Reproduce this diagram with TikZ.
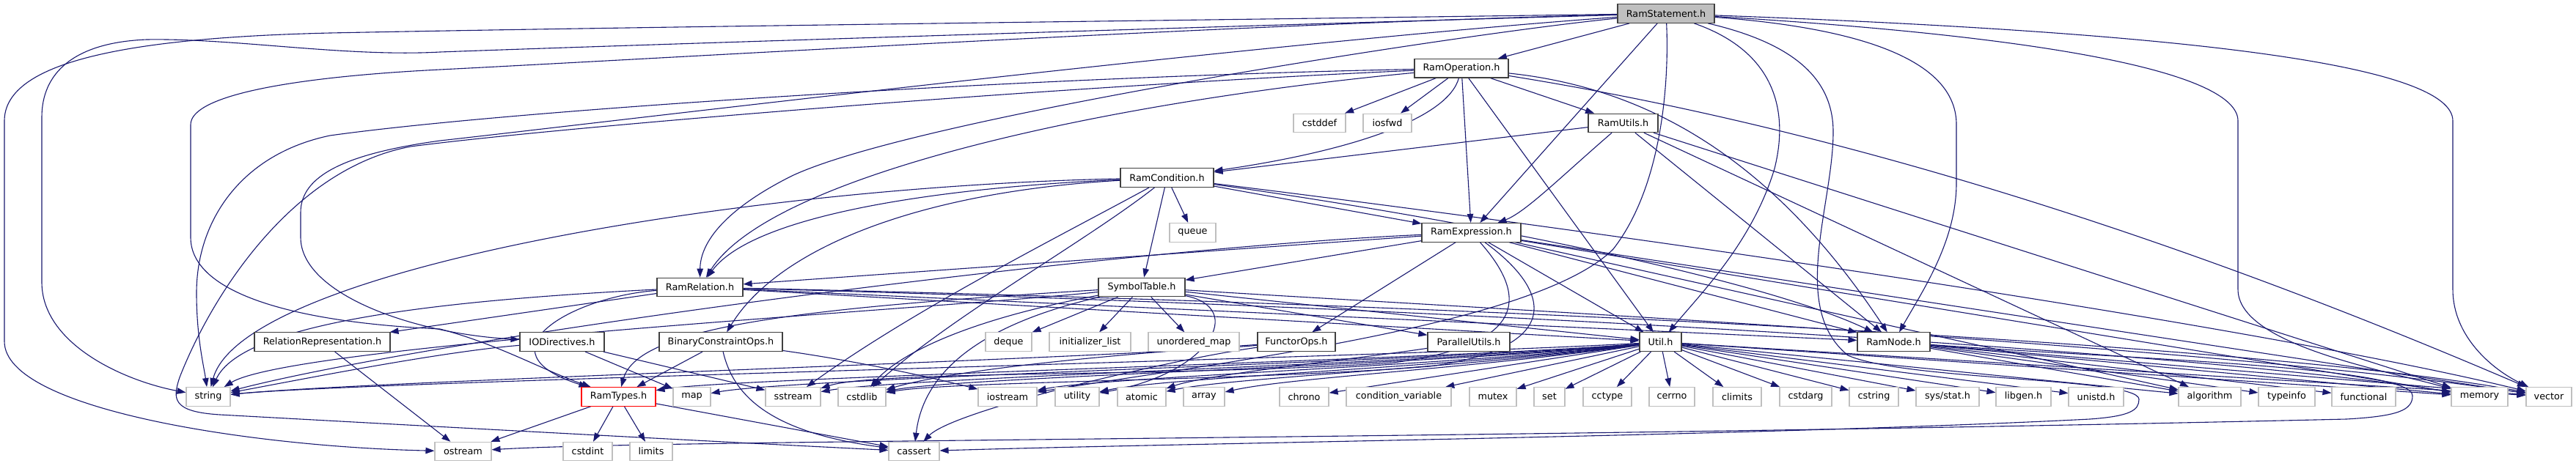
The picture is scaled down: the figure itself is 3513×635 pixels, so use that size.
\documentclass[tikz,border=0pt]{standalone}
\usepackage{fontspec}
\setmainfont{DejaVu Sans}
\usetikzlibrary{arrows.meta}
\definecolor{edgec}{HTML}{191970}
\definecolor{projc}{HTML}{404040}
\definecolor{sysc}{HTML}{BFBFBF}
\definecolor{rootc}{HTML}{BFBFBF}
\newcommand\fs{\fontsize{12.8}{14}\selectfont}
\newcommand\mynode[6]{\node[#1, minimum width={#4-#3}] (#2) at ({(#3+#4)/2},#5) {#6};}
\pgfdeclarelayer{bg}
\pgfsetlayers{bg,main}
\tikzset{
 base/.style={rectangle, minimum height=25.6pt, inner sep=0pt, font=\fs, text=black, line width=1.1pt},
 proj/.style={base, draw=projc, fill=white},
 sys/.style={base, draw=sysc, fill=white},
 root/.style={base, draw=projc, fill=rootc},
 trunc/.style={base, draw=red, fill=white},
 ar/.style={draw=edgec, line width=1.1pt, -{Triangle[length=12pt,width=8.5pt]}},
}
\begin{document}
\begin{tikzpicture}[x=1pt,y=-1pt]
\useasboundingbox (0,0) rectangle (3513,635);
\begin{pgfonlayer}{bg}\fill[white] (0,0) rectangle (3513,635);\end{pgfonlayer}
% level 0-5
\mynode{root}{S}{2206}{2338}{18.5}{RamStatement.h}
\mynode{proj}{O}{1929}{2057}{93.2}{RamOperation.h}
\mynode{sys}{cstddef}{1764}{1835}{167.9}{cstddef}
\mynode{sys}{iosfwd}{1859}{1925}{167.9}{iosfwd}
\mynode{proj}{U}{2166}{2261}{167.9}{RamUtils.h}
\mynode{proj}{C}{1528}{1655}{242.6}{RamCondition.h}
\mynode{sys}{queue}{1595}{1658}{317.3}{queue}
\mynode{proj}{E}{1939}{2074}{317.3}{RamExpression.h}
\mynode{proj}{Rel}{896}{1013}{392}{RamRelation.h}
\mynode{proj}{ST}{1498}{1616}{392}{SymbolTable.h}
% level 6
\mynode{proj}{RR}{347}{532}{466.7}{RelationRepresentation.h}
\mynode{proj}{IOD}{709}{824}{466.7}{IODirectives.h}
\mynode{proj}{BCO}{899}{1067}{466.7}{BinaryConstraintOps.h}
\mynode{sys}{deque}{1344}{1407}{466.7}{deque}
\mynode{sys}{initl}{1431}{1542}{466.7}{initializer\_list}
\mynode{sys}{umap}{1566}{1690}{466.7}{unordered\_map}
\mynode{proj}{FO}{1715}{1821}{466.7}{FunctorOps.h}
\mynode{proj}{PU}{1947}{2059}{466.7}{ParallelUtils.h}
\mynode{proj}{Ut}{2236}{2293}{466.7}{Util.h}
\mynode{proj}{RN}{2533}{2632}{466.7}{RamNode.h}
% level 7
\mynode{sys}{str}{254}{314}{541.4}{string}
\mynode{trunc}{RT}{793}{894}{541.4}{RamTypes.h}
\mynode{sys}{map}{918}{969}{541.4}{map}
\mynode{sys}{sstream}{1044}{1119}{541.4}{sstream}
\mynode{sys}{cstdlib}{1143}{1208}{541.4}{cstdlib}
\mynode{sys}{iostream}{1334}{1414}{541.4}{iostream}
\mynode{sys}{utility}{1439}{1499}{541.4}{utility}
\mynode{sys}{atomic}{1524}{1590}{541.4}{atomic}
\mynode{sys}{array}{1614}{1670}{541.4}{array}
\mynode{sys}{chrono}{1745}{1812}{541.4}{chrono}
\mynode{sys}{condvar}{1836}{1979}{541.4}{condition\_variable}
\mynode{sys}{mutex}{2004}{2068}{541.4}{mutex}
\mynode{sys}{set}{2092}{2134}{541.4}{set}
\mynode{sys}{cctype}{2159}{2225}{541.4}{cctype}
\mynode{sys}{cerrno}{2249}{2311}{541.4}{cerrno}
\mynode{sys}{climits}{2336}{2402}{541.4}{climits}
\mynode{sys}{cstdarg}{2427}{2498}{541.4}{cstdarg}
\mynode{sys}{cstring}{2522}{2589}{541.4}{cstring}
\mynode{sys}{sysstat}{2613}{2699}{541.4}{sys/stat.h}
\mynode{sys}{libgen}{2722}{2797}{541.4}{libgen.h}
\mynode{sys}{unistd}{2821}{2896}{541.4}{unistd.h}
\mynode{sys}{algorithm}{2971}{3056}{541.4}{algorithm}
\mynode{sys}{typeinfo}{3080}{3157}{541.4}{typeinfo}
\mynode{sys}{functional}{3180}{3267}{541.4}{functional}
\mynode{sys}{memory}{3343}{3420}{541.4}{memory}
\mynode{sys}{vector}{3445}{3507}{541.4}{vector}
% level 8
\mynode{sys}{ostream}{593}{670}{616.1}{ostream}
\mynode{sys}{cstdint}{768}{835}{616.1}{cstdint}
\mynode{sys}{limits}{859}{917}{616.1}{limits}
\mynode{sys}{cassert}{1212}{1281}{616.1}{cassert}

\begin{pgfonlayer}{bg}
% RamStatement.h
\draw[ar] (S) -- (O);
\draw[ar] (S) -- (E);
\draw[ar] (S) .. controls (2000,45) and (1250,160) .. (1080,240) .. controls (990,285) and (955,330) .. (Rel);
\draw[ar] (S) .. controls (1600,28) and (900,36) .. (450,45) .. controls (150,52) and (6,90) .. (6,165) -- (6,466) .. controls (6,560) and (350,610) .. (ostream);
\draw[ar] (S) .. controls (1700,35) and (900,60) .. (600,71) .. controls (470,78) and (320,52) .. (200,54) .. controls (100,58) and (57,100) .. (57,160) -- (57,385) .. controls (57,470) and (170,520) .. (str);
\draw[ar] (S) .. controls (1700,32) and (900,80) .. (600,95) .. controls (400,105) and (260,130) .. (260,170) -- (260,324) .. controls (260,400) and (400,440) .. (600,449) .. controls (680,470) and (740,505) .. (RT);
\draw[ar] (S) .. controls (1700,60) and (800,170) .. (600,192) .. controls (470,210) and (410,240) .. (410,290) -- (410,324) .. controls (410,400) and (560,455) .. (IOD);
\draw[ar] (S) .. controls (2560,40) and (2668,90) .. (2668,170) -- (2668,250) .. controls (2668,330) and (2620,400) .. (RN);
\draw[ar] (S) .. controls (2420,70) and (2440,150) .. (2420,230) .. controls (2390,330) and (2320,400) .. (Ut);
\draw[ar] (S) .. controls (2800,50) and (3052,100) .. (3052,165) -- (3052,395) .. controls (3052,470) and (3250,505) .. (memory);
\draw[ar] (S) .. controls (3000,45) and (3345,90) .. (3345,165) -- (3345,395) .. controls (3345,460) and (3400,505) .. (vector);
\draw[ar] (S) .. controls (2450,60) and (2500,110) .. (2500,180) .. controls (2500,280) and (2440,420) .. (2520,485) .. controls (2600,520) and (2917,515) .. (2917,545) .. controls (2917,560) and (2905,568) .. (2850,572) .. controls (2400,595) and (1600,605) .. (cassert);
\draw[ar] (S) .. controls (2276,100) and (2270,250) .. (2200,340) .. controls (2100,440) and (1700,490) .. (iostream);
% RamOperation.h
\draw[ar] (O) -- (cstddef);
\draw[ar] (O) -- (iosfwd);
\draw[ar] (O) -- (U);
\draw[ar] (O) -- (E);
\draw[ar] (O) -- (Ut);
\draw[ar] (O) .. controls (1975,160) and (1850,205) .. (C);
\draw[ar] (O) .. controls (1500,140) and (1050,240) .. (Rel);
\draw[ar] (O) .. controls (2250,120) and (2420,220) .. (RN);
\draw[ar] (O) .. controls (2600,190) and (3100,380) .. (vector);
\draw[ar] (O) .. controls (1400,105) and (700,150) .. (450,185) .. controls (330,210) and (268,300) .. (268,400) .. controls (268,460) and (278,500) .. (str);
\draw[ar] (O) .. controls (1400,120) and (750,175) .. (560,200) .. controls (400,230) and (290,400) .. (245,515) .. controls (235,545) and (235,562) .. (300,566) .. controls (700,588) and (1000,604) .. (cassert);
% RamUtils.h
\draw[ar] (U) -- (C);
\draw[ar] (U) .. controls (2130,240) and (2080,290) .. (E);
\draw[ar] (U) -- (RN);
\draw[ar] (U) -- (algorithm);
\draw[ar] (U) -- (memory);
% RamCondition.h
\draw[ar] (C) -- (queue);
\draw[ar] (C) -- (ST);
\draw[ar] (C) -- (E);
\draw[ar] (C) .. controls (1300,255) and (1030,290) .. (Rel);
\draw[ar] (C) .. controls (1250,262) and (1060,340) .. (BCO);
\draw[ar] (C) .. controls (1000,255) and (330,370) .. (str);
\draw[ar] (C) .. controls (1450,320) and (1250,420) .. (sstream);
\draw[ar] (C) .. controls (1480,330) and (1300,430) .. (cstdlib);
\draw[ar] (C) .. controls (2000,300) and (2400,380) .. (RN);
\draw[ar] (C) .. controls (2300,330) and (3100,450) .. (vector);
% RamExpression.h
\draw[ar] (E) -- (FO);
\draw[ar] (E) -- (ST);
\draw[ar] (E) -- (Rel);
\draw[ar] (E) -- (Ut);
\draw[ar] (E) -- (RN);
\draw[ar] (E) .. controls (1500,340) and (600,460) .. (str);
\draw[ar] (E) .. controls (2080,400) and (2090,470) .. (1900,495) .. controls (1600,515) and (1200,505) .. (sstream);
\draw[ar] (E) .. controls (2120,400) and (2130,475) .. (1950,500) .. controls (1700,520) and (1300,520) .. (cstdlib);
\draw[ar] (E) -- (algorithm);
\draw[ar] (E) -- (memory);
\draw[ar] (E) -- (vector);
% RamRelation.h
\draw[ar] (Rel) -- (RR);
\draw[ar] (Rel) .. controls (780,405) and (650,480) .. (RT);
\draw[ar] (Rel) .. controls (600,410) and (330,440) .. (str);
\draw[ar] (Rel) -- (Ut);
\draw[ar] (Rel) -- (RN);
\draw[ar] (Rel) .. controls (2000,420) and (3000,480) .. (memory);
\draw[ar] (Rel) .. controls (2000,415) and (3100,470) .. (vector);
% SymbolTable.h
\draw[ar] (ST) -- (deque);
\draw[ar] (ST) -- (initl);
\draw[ar] (ST) -- (umap);
\draw[ar] (ST) -- (PU);
\draw[ar] (ST) -- (Ut);
\draw[ar] (ST) .. controls (1100,420) and (870,445) .. (RT);
\draw[ar] (ST) .. controls (1350,440) and (1260,500) .. (cassert);
\draw[ar] (ST) .. controls (1300,420) and (400,470) .. (str);
\draw[ar] (ST) .. controls (1300,440) and (1220,490) .. (cstdlib);
\draw[ar] (ST) .. controls (1700,420) and (1650,510) .. (utility);
\draw[ar] (ST) .. controls (2000,420) and (3000,470) .. (vector);
% IODirectives.h
\draw[ar] (IOD) -- (map);
\draw[ar] (IOD) -- (sstream);
\draw[ar] (IOD) .. controls (600,480) and (400,520) .. (str);
% BinaryConstraintOps.h
\draw[ar] (BCO) -- (RT);
\draw[ar] (BCO) .. controls (1000,540) and (1050,590) .. (cassert);
\draw[ar] (BCO) .. controls (1150,490) and (1250,510) .. (iostream);
% RelationRepresentation.h
\draw[ar] (RR) -- (ostream);
% RamTypes.h
\draw[ar] (RT) -- (ostream);
\draw[ar] (RT) -- (cstdint);
\draw[ar] (RT) -- (limits);
\draw[ar] (RT) -- (cassert);
% FunctorOps.h
\draw[ar] (FO) .. controls (1500,490) and (500,520) .. (str);
\draw[ar] (FO) .. controls (1500,485) and (1300,505) .. (cstdlib);
\draw[ar] (FO) .. controls (1600,490) and (1300,560) .. (cassert);
% ParallelUtils.h
\draw[ar] (PU) .. controls (1850,490) and (1650,510) .. (atomic);
% Util.h
\draw[ar] (Ut) .. controls (2000,490) and (1000,515) .. (RT);
\draw[ar] (Ut) .. controls (2000,492) and (1090,515) .. (map);
\draw[ar] (Ut) .. controls (2000,494) and (1230,515) .. (sstream);
\draw[ar] (Ut) .. controls (2000,496) and (1300,515) .. (cstdlib);
\draw[ar] (Ut) .. controls (2000,498) and (1500,515) .. (iostream);
\draw[ar] (Ut) .. controls (2000,500) and (1590,515) .. (utility);
\draw[ar] (Ut) .. controls (2000,502) and (1680,515) .. (atomic);
\draw[ar] (Ut) .. controls (2000,504) and (1760,515) .. (array);
\draw[ar] (Ut) .. controls (1900,488) and (500,520) .. (str);
\draw[ar] (Ut) -- (chrono);
\draw[ar] (Ut) -- (condvar);
\draw[ar] (Ut) -- (mutex);
\draw[ar] (Ut) -- (set);
\draw[ar] (Ut) -- (cctype);
\draw[ar] (Ut) -- (cerrno);
\draw[ar] (Ut) -- (climits);
\draw[ar] (Ut) -- (cstdarg);
\draw[ar] (Ut) -- (cstring);
\draw[ar] (Ut) -- (sysstat);
\draw[ar] (Ut) -- (libgen);
\draw[ar] (Ut) -- (unistd);
\draw[ar] (Ut) -- (algorithm);
\draw[ar] (Ut) -- (memory);
\draw[ar] (Ut) -- (vector);
% RamNode.h
\draw[ar] (RN) -- (algorithm);
\draw[ar] (RN) -- (typeinfo);
\draw[ar] (RN) -- (functional);
\draw[ar] (RN) -- (memory);
\draw[ar] (RN) -- (vector);
\draw[ar] (RN) .. controls (2900,490) and (3290,500) .. (3290,540) .. controls (3290,560) and (3270,568) .. (3200,572) .. controls (2000,600) and (900,600) .. (ostream);
\end{pgfonlayer}
\end{tikzpicture}
\end{document}
